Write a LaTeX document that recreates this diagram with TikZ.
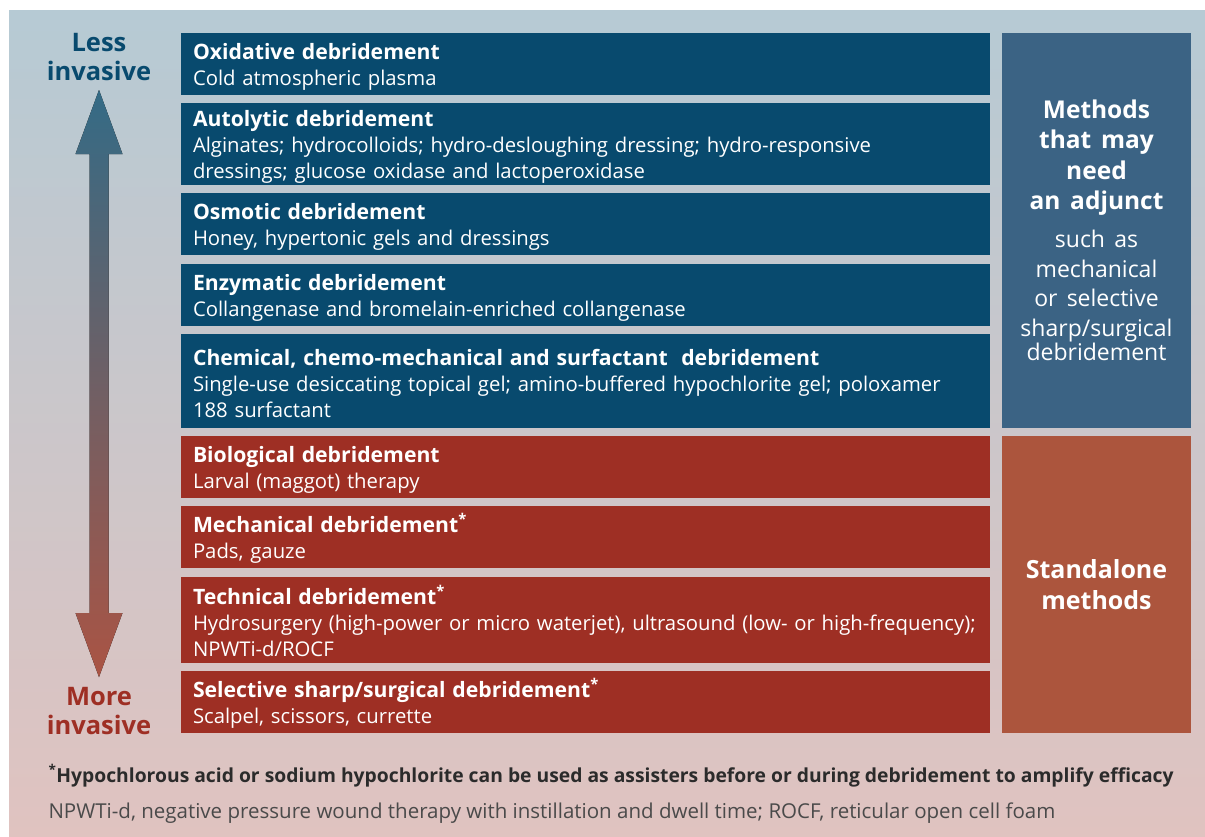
\documentclass[tikz,border=0pt]{standalone}
\usepackage{fontspec}
\setmainfont{Open Sans}
\usetikzlibrary{positioning}
\definecolor{bgtop}{HTML}{B6CAD4}
\definecolor{bgbot}{HTML}{E0C3C0}
\definecolor{deepblue}{HTML}{084A6E}
\definecolor{softblue}{HTML}{3B6384}
\definecolor{deepred}{HTML}{9E2F24}
\definecolor{softred}{HTML}{AC553D}
\definecolor{arrtop}{HTML}{346B86}
\definecolor{arrbot}{HTML}{AA5444}
\definecolor{notedark}{HTML}{2B2B2B}
\definecolor{notegray}{HTML}{4A4A4A}
\newcommand{\mtitle}[1]{{\rule{0pt}{21pt}\bfseries\fontsize{21.2}{26}\selectfont #1}}

\begin{document}
\begin{tikzpicture}[x=1pt,y=-1pt,
		method/.style={rectangle, inner xsep=12pt, inner ysep=0pt, outer sep=0pt, text width=785pt, align=left, text=white, font=\fontsize{20.3}{26}\selectfont},
		adj/.style={method, fill=deepblue},
		alone/.style={method, fill=deepred},
		side/.style={rectangle, outer sep=0pt, minimum width=189pt, text width=175pt, align=center, text=white, anchor=north west},
		ends/.style={align=center, font=\bfseries\fontsize{25.5}{29}\selectfont},
		note/.style={anchor=base west, font=\fontsize{20.5}{24}\selectfont}]

	\useasboundingbox (0,0) rectangle (1205,836);
	\fill[top color=bgtop, bottom color=bgbot] (9,10) rectangle (1205,836);

	% less invasive group
	\node[adj, minimum height=62pt, anchor=north west] (oxid) at (181,33) {\mtitle{Oxidative debridement}\\ Cold atmospheric plasma};
	\node[adj, minimum height=82pt, below=8pt of oxid] (auto) {\mtitle{Autolytic debridement}\\ Alginates; hydrocolloids; hydro-desloughing dressing; hydro-responsive\\ dressings; glucose oxidase and lactoperoxidase};
	\node[adj, minimum height=62pt, below=8pt of auto] (osmo) {\mtitle{Osmotic debridement}\\ Honey, hypertonic gels and dressings};
	\node[adj, minimum height=62pt, below=9pt of osmo] (enzy) {\mtitle{Enzymatic debridement}\\ Collangenase and bromelain-enriched collangenase};
	\node[adj, minimum height=94pt, below=8pt of enzy] (chem) {\mtitle{Chemical, chemo-mechanical and surfactant\ \ debridement}\\ Single-use desiccating topical gel; amino-buffered hypochlorite gel; poloxamer\\ 188 surfactant};

	% more invasive group
	\node[alone, minimum height=62pt, below=8pt of chem] (bio) {\mtitle{Biological debridement}\\ Larval (maggot) therapy};
	\node[alone, minimum height=62pt, below=8pt of bio] (mech) {\mtitle{Mechanical debridement\textsuperscript{*}}\\ Pads, gauze};
	\node[alone, minimum height=86pt, below=9pt of mech] (tech) {\mtitle{Technical debridement\textsuperscript{*}}\\ Hydrosurgery (high-power or micro waterjet), ultrasound (low- or high-frequency);\\ NPWTi-d/ROCF};
	\node[alone, minimum height=62pt, below=8pt of tech] (sharp) {\mtitle{Selective sharp/surgical debridement\textsuperscript{*}}\\ Scalpel, scissors, currette};

	% side boxes
	\node[side, fill=softblue, minimum height=395pt] (needadj) at (1002,33) {{\bfseries\fontsize{24.5}{30.3}\selectfont\spaceskip=0.4em Methods\\ that may\\ need\\ an adjunct\par}\vspace{8pt}\fontsize{23}{29.8}\selectfont\spaceskip=0.4em such as\\ mechanical\\ or selective\\ sharp/surgical\\ debridement};
	\node[side, fill=softred, minimum height=297pt, font=\bfseries\fontsize{25}{31}\selectfont] (standalone) at (1002,436) {Standalone\\ methods};

	% invasiveness arrow
	\node[ends, text=deepblue] (less) at (99,57) {Less\\ invasive};
	\node[ends, text=deepred] (more) at (99,711) {More\\ invasive};
	\coordinate (up) at (99,90);
	\fill[top color=arrtop, bottom color=arrbot] (up) -- ++(23.5,64) -- ++(-14,0) -- ++(0,459) -- ++(14,0) -- ++(-23.5,64) -- ++(-23.5,-64) -- ++(14,0) -- ++(0,-459) -- ++(-14,0) -- cycle;

	% footnotes
	\node[note, text=notedark, font=\bfseries\fontsize{19.3}{24}\selectfont] (assist) at (45,782) {\textsuperscript{*}Hypochlorous acid or sodium hypochlorite can be used as assisters before or during debridement to amplify efficacy};
	\node[note, text=notegray] (abbr) at (45,818) {NPWTi-d, negative pressure wound therapy with instillation and dwell time; ROCF, reticular open cell foam};
\end{tikzpicture}
\end{document}
